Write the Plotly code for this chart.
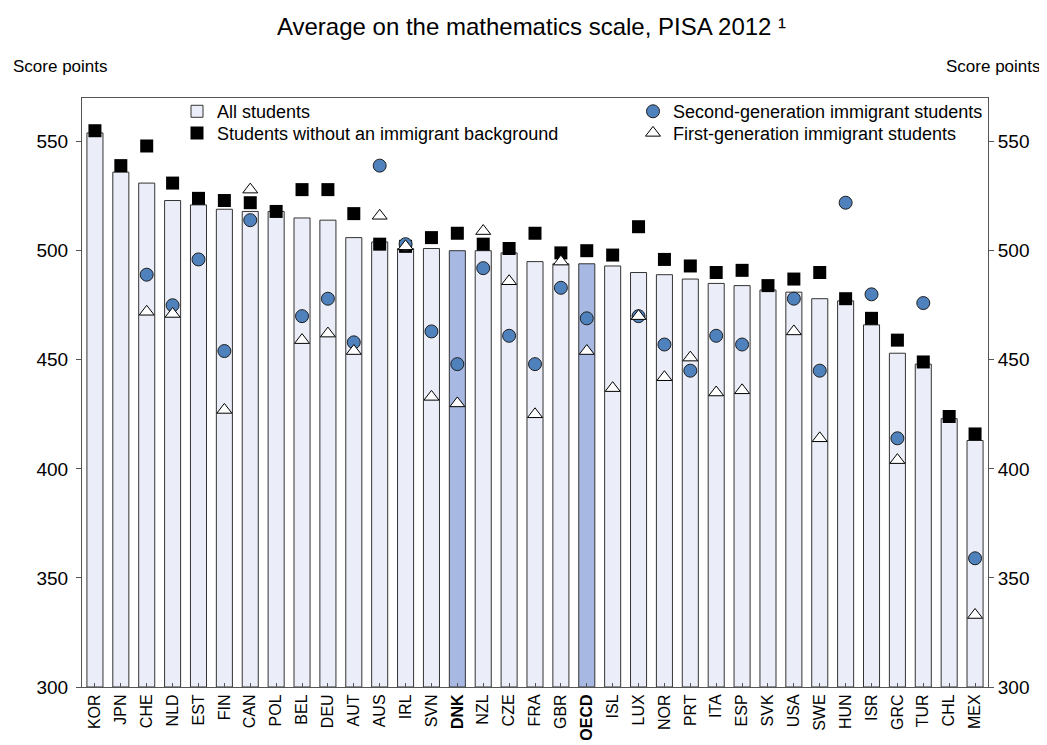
import plotly.graph_objects as go

countries = ["KOR", "JPN", "CHE", "NLD", "EST", "FIN", "CAN", "POL", "BEL", "DEU",
             "AUT", "AUS", "IRL", "SVN", "DNK", "NZL", "CZE", "FRA", "GBR", "OECD",
             "ISL", "LUX", "NOR", "PRT", "ITA", "ESP", "SVK", "USA", "SWE", "HUN",
             "ISR", "GRC", "TUR", "CHL", "MEX"]
highlight = ["DNK", "OECD"]

all_students = [554, 536, 531, 523, 521, 519, 518, 518, 515, 514,
                506, 504, 501, 501, 500, 500, 499, 495, 494, 494,
                493, 490, 489, 487, 485, 484, 482, 481, 478, 477,
                466, 453, 448, 423, 413]
native = [555, 539, 548, 531, 524, 523, 522, 518, 528, 528,
          517, 503, 502, 506, 508, 503, 501, 508, 499, 500,
          498, 511, 496, 493, 490, 491, 484, 487, 490, 478,
          469, 459, 449, 424, 416]
second_gen = [None, None, 489, 475, 496, 454, 514, None, 470, 478,
              458, 539, 503, 463, 448, 492, 461, 448, 483, 469,
              None, 470, 457, 445, 461, 457, None, 478, 445, 522,
              480, 414, 476, None, 359]
first_gen = [None, None, 472, 471, None, 427, 528, None, 459, 462,
             454, 516, 502, 433, 430, 509, 486, 425, 495, 454,
             437, 470, 442, 451, 435, 436, None, 463, 414, None,
             None, 404, None, None, 333]

tick_labels = [f"<b>{c}</b>" if c in highlight else c for c in countries]

FONT = "Liberation Sans, Arial, sans-serif"
bar_fill = ["#A7B9E3" if c in highlight else "#EBEEF8" for c in countries]

fig = go.Figure()
fig.add_trace(go.Bar(
    x=countries, y=[v - 300 for v in all_students], base=300,
    name="All students", width=0.62,
    marker=dict(color=bar_fill, line=dict(color="#333333", width=1)),
    legend="legend", hoverinfo="skip",
))
fig.add_trace(go.Scatter(
    x=countries, y=native, mode="markers",
    name="Students without an immigrant background",
    marker=dict(symbol="square", size=13, color="#000000", line=dict(width=0)),
    legend="legend2",
))
fig.add_trace(go.Scatter(
    x=countries, y=second_gen, mode="markers",
    name="Second-generation immigrant students",
    marker=dict(symbol="circle", size=13, color="#4F81BD",
                line=dict(color="#1F1F1F", width=1)),
    legend="legend3",
))
fig.add_trace(go.Scatter(
    x=countries, y=first_gen, mode="markers",
    name="First-generation immigrant students",
    marker=dict(symbol="triangle-up", size=13, color="#FFFFFF",
                line=dict(color="#000000", width=1)),
    legend="legend4",
))
# invisible trace to carry the right-hand axis
fig.add_trace(go.Scatter(
    x=[countries[0]], y=[all_students[0]], yaxis="y2", mode="markers",
    marker=dict(opacity=0), showlegend=False, hoverinfo="skip",
))


def legend_box(left_px, top_px):
    return dict(
        x=(left_px - 74) / 906, y=(690 - top_px) / 600,
        xanchor="left", yanchor="top",
        bgcolor="rgba(0,0,0,0)", font=dict(size=18, family=FONT, color="#000000"),
        tracegroupgap=0, itemwidth=30,
    )


fig.update_layout(
    width=1047, height=745,
    margin=dict(l=74, r=67, t=90, b=55),
    paper_bgcolor="white", plot_bgcolor="white",
    font=dict(family=FONT, color="#000000"),
    title=dict(text="Average on the mathematics scale, PISA 2012 ¹",
               x=0.5, xanchor="center", y=1 - 19 / 745, yanchor="middle",
               yref="container", font=dict(size=24, family=FONT, color="#000000")),
    barmode="overlay",
    xaxis=dict(
        type="category", categoryorder="array", categoryarray=countries,
        tickmode="array", tickvals=countries, ticktext=tick_labels,
        tickangle=-90, tickfont=dict(size=16, family=FONT, color="#000000"),
        ticks="inside", ticklen=4, tickcolor="#555555",
        showline=True, linecolor="#555555", linewidth=1, mirror=True,
        showgrid=False, range=[-0.5, len(countries) - 0.5],
    ),
    yaxis=dict(
        range=[300, 570], tickvals=[300, 350, 400, 450, 500, 550],
        ticks="outside", ticklen=5, tickcolor="#555555",
        tickfont=dict(size=19, family=FONT, color="#000000"),
        ticklabelstandoff=4,
        showline=True, linecolor="#555555", linewidth=1, mirror=True,
        showgrid=False, zeroline=False,
    ),
    yaxis2=dict(
        overlaying="y", side="right", matches="y",
        range=[300, 570], tickvals=[300, 350, 400, 450, 500, 550],
        ticks="outside", ticklen=5, tickcolor="#555555",
        tickfont=dict(size=19, family=FONT, color="#000000"),
        showline=False, showgrid=False, zeroline=False,
    ),
    legend=legend_box(169, 85),
    legend2=legend_box(169, 107),
    legend3=legend_box(625, 85),
    legend4=legend_box(625, 107),
    annotations=[
        dict(text="Score points", xref="paper", yref="paper",
             x=(3 - 74) / 906, y=(690 - 58) / 600, xanchor="left", yanchor="middle",
             showarrow=False, font=dict(size=17, family=FONT, color="#000000")),
        dict(text="Score points", xref="paper", yref="paper",
             x=(1035 - 74) / 906, y=(690 - 58) / 600, xanchor="right", yanchor="middle",
             showarrow=False, font=dict(size=17, family=FONT, color="#000000")),
    ],
)

fig.write_html("out.html")
